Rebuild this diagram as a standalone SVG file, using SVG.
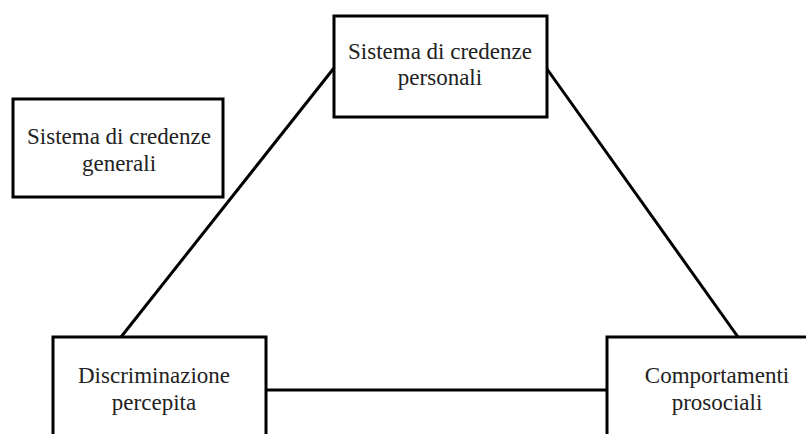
<svg xmlns="http://www.w3.org/2000/svg" width="806" height="434" viewBox="0 0 806 434">
<style>
.box{fill:#fff;stroke:#000;stroke-width:3}
.ln{stroke:#000;stroke-width:3;fill:none}
text{font-family:"Liberation Serif","Times New Roman",serif;font-size:23px;fill:#222;text-anchor:middle}
</style>
<rect width="806" height="434" fill="#fff"/>
<g id="connectors">
<line class="ln" x1="121" y1="337" x2="334" y2="68"/>
<line class="ln" x1="547" y1="69" x2="738" y2="337"/>
<line class="ln" x1="266" y1="390" x2="607" y2="390"/>
</g>
<g id="personali">
<rect class="box" x="334" y="16" width="213" height="101"/>
<text x="440" y="59">Sistema di credenze</text>
<text x="440" y="85">personali</text>
</g>
<g id="generali">
<rect class="box" x="13" y="99" width="210" height="98"/>
<text x="119" y="144">Sistema di credenze</text>
<text x="119" y="171">generali</text>
</g>
<g id="discriminazione">
<rect class="box" x="53" y="337" width="213" height="110"/>
<text x="154" y="383">Discriminazione</text>
<text x="154" y="410">percepita</text>
</g>
<g id="comportamenti">
<rect class="box" x="607" y="337" width="213" height="110"/>
<text x="717" y="383">Comportamenti</text>
<text x="717" y="410">prosociali</text>
</g>
</svg>
